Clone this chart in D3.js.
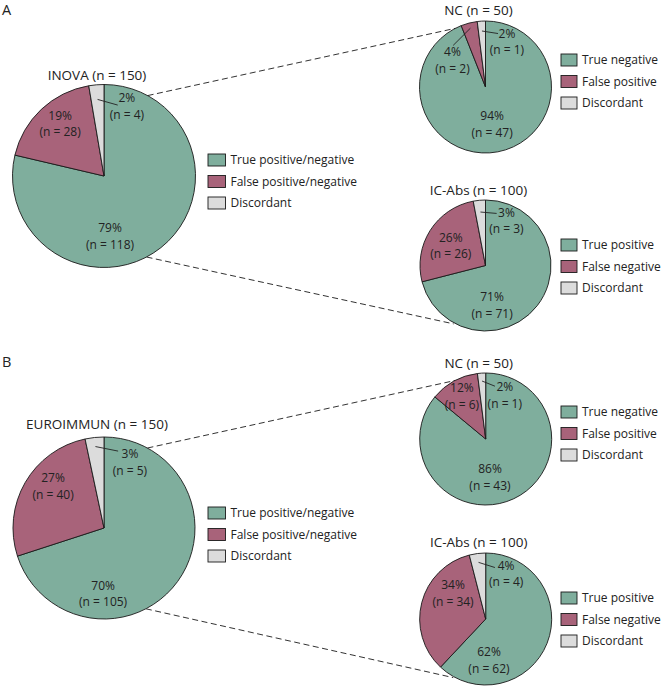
<!DOCTYPE html>
<html>
<head>
<meta charset="utf-8">
<script src="https://cdn.jsdelivr.net/npm/d3@7"></script>
<style>
  html, body { margin: 0; padding: 0; background: #fff; }
  svg { display: block; }
  text { font-family: "Open Sans", "Noto Sans", sans-serif; fill: #222; }
</style>
</head>
<body>
<script>
// ---------------- DATA ----------------
const panelLetters = ["A", "B"];
const mainTitles = ["INOVA (n = 150)", "EUROIMMUN (n = 150)"];
const ncTitles = ["NC (n = 50)", "NC (n = 50)"];
const icTitles = ["IC-Abs (n = 100)", "IC-Abs (n = 100)"];

const mainCounts = [[118, 28, 4], [105, 40, 5]];
const mainPercents = [[79, 19, 2], [70, 27, 3]];
const ncCounts = [[47, 2, 1], [43, 6, 1]];
const ncPercents = [[94, 4, 2], [86, 12, 2]];
const icCounts = [[71, 26, 3], [62, 34, 4]];
const icPercents = [[71, 26, 3], [62, 34, 4]];

const mainLegend = ["True positive/negative", "False positive/negative", "Discordant"];
const ncLegend = ["True negative", "False positive", "Discordant"];
const icLegend = ["True positive", "False negative", "Discordant"];

// ---------------- STYLE / LAYOUT ----------------
const colors = ["#7fae9d", "#a8637a", "#dcdcdc"];
const W = 662, H = 687;

// label offsets relative to pie centre (fractions of radius): [dx, dy]
const layout = [
  { // panel A
    main: { cx: 104, cy: 176, r: 91.5, titleY: 80, legendY: 160,
            labels: [[0.066, 0.66], [-0.48, -0.57], [0.25, -0.76]],
            leader: { slice: 2, r0: 0.84, end: [0.15, -0.775] } },
    nc:   { cx: 485.5, cy: 87, r: 66, titleY: 15, legendY: 60,
            labels: [[0.1, 0.57], [-0.5, -0.4], [0.325, -0.68]],
            leader: { slice: 1, r0: 0.92, end: [-0.49, -0.63] },
            leader2: { slice: 2, r0: 0.85, end: [0.19, -0.81] } },
    ic:   { cx: 485.5, cy: 265.5, r: 65.5, titleY: 195, legendY: 245,
            labels: [[0.1, 0.61], [-0.53, -0.3], [0.32, -0.68]],
            leader: { slice: 2, r0: 0.82, end: [0.17, -0.795] } },
    topLine: [28.5, -27.3], botLine: [152.3, 208.6], letterY: 15
  },
  { // panel B
    main: { cx: 104, cy: 528, r: 91, titleY: 429, legendY: 513,
            labels: [[-0.01, 0.725], [-0.56, -0.455], [0.285, -0.72]],
            leader: { slice: 2, r0: 0.9, end: [0.155, -0.845] } },
    nc:   { cx: 485.7, cy: 439, r: 66, titleY: 367.5, legendY: 412,
            labels: [[0.065, 0.585], [-0.36, -0.645], [0.29, -0.66]],
            leader: { slice: 2, r0: 0.88, end: [0.14, -0.8] } },
    ic:   { cx: 485.7, cy: 619, r: 66, titleY: 546.5, legendY: 598,
            labels: [[0.05, 0.63], [-0.495, -0.385], [0.31, -0.68]],
            leader: { slice: 2, r0: 0.865, end: [0.14, -0.78] } },
    topLine: [28.5, -27.5], botLine: [152.6, 209], letterY: 367
  }
];

const svg = d3.select("body").append("svg")
  .attr("width", W).attr("height", H)
  .attr("viewBox", `0 0 ${W} ${H}`);

const pie = d3.pie().sort(null).startAngle(0).endAngle(2 * Math.PI).value(d => d);
const lineH = 16.5;

function polar(cx, cy, r, deg) {
  const a = deg * Math.PI / 180;
  return [cx + r * Math.sin(a), cy - r * Math.cos(a)];
}

function drawPie(cfg, counts, percents, title, legend, legendX, boxW) {
  const g = svg.append("g").attr("transform", `translate(${cfg.cx},${cfg.cy})`);
  const arcs = pie(counts);
  const arc = d3.arc().innerRadius(0).outerRadius(cfg.r);
  g.selectAll("path.slice").data(arcs).join("path")
    .attr("class", "slice")
    .attr("d", arc)
    .attr("fill", (d, i) => colors[i])
    .attr("stroke", "#1a1a1a")
    .attr("stroke-width", 0.9)
    .attr("stroke-linejoin", "round");

  // leader lines
  [cfg.leader, cfg.leader2].filter(Boolean).forEach(ld => {
    const a = arcs[ld.slice];
    const mid = (a.startAngle + a.endAngle) / 2;
    const rr = cfg.r * ld.r0;
    g.append("line")
      .attr("x1", rr * Math.sin(mid)).attr("y1", -rr * Math.cos(mid))
      .attr("x2", ld.end[0] * cfg.r).attr("y2", ld.end[1] * cfg.r)
      .attr("stroke", "#222").attr("stroke-width", 0.9);
  });

  // slice labels
  arcs.forEach((a, i) => {
    const [fx, fy] = cfg.labels[i];
    const x = fx * cfg.r, y = fy * cfg.r;
    g.append("text").attr("text-anchor", "middle").attr("font-size", 12)
      .attr("x", x).attr("y", y - lineH / 2 + 4).text(percents[i] + "%");
    g.append("text").attr("text-anchor", "middle").attr("font-size", 12)
      .attr("x", x).attr("y", y + lineH / 2 + 4).text(`(n = ${counts[i]})`);
  });

  // title
  svg.append("text")
    .attr("x", cfg.cx - 7).attr("y", cfg.titleY)
    .attr("text-anchor", "middle").attr("font-size", 13.5)
    .text(title);

  // legend
  const lg = svg.append("g").attr("transform", `translate(${legendX},${cfg.legendY})`);
  legend.forEach((lab, i) => {
    const y = i * 21.5;
    lg.append("rect")
      .attr("x", 0).attr("y", y - 6)
      .attr("width", boxW).attr("height", 12)
      .attr("fill", colors[i]).attr("stroke", "#1a1a1a").attr("stroke-width", 0.9);
    lg.append("text")
      .attr("x", boxW + 5).attr("y", y + 4.3)
      .attr("font-size", 12).text(lab);
  });
}

layout.forEach((L, p) => {
  // dashed connectors (drawn first, below pies)
  const [a1, a2] = L.topLine;
  const [b1, b2] = L.botLine;
  const t1 = polar(L.main.cx, L.main.cy, L.main.r, a1);
  const t2 = polar(L.nc.cx, L.nc.cy, L.nc.r, a2);
  const u1 = polar(L.main.cx, L.main.cy, L.main.r, b1);
  const u2 = polar(L.ic.cx, L.ic.cy, L.ic.r + 1, b2);
  [[t1, t2], [u1, u2]].forEach(([s, e]) => {
    svg.append("line")
      .attr("x1", s[0]).attr("y1", s[1]).attr("x2", e[0]).attr("y2", e[1])
      .attr("stroke", "#333").attr("stroke-width", 1)
      .attr("stroke-dasharray", "6,3.5");
  });

  drawPie(L.main, mainCounts[p], mainPercents[p], mainTitles[p], mainLegend, 208, 17.5);
  drawPie(L.nc, ncCounts[p], ncPercents[p], ncTitles[p], ncLegend, 561, 16);
  drawPie(L.ic, icCounts[p], icPercents[p], icTitles[p], icLegend, 561, 16);

  svg.append("text")
    .attr("x", 2).attr("y", L.letterY)
    .attr("font-size", 14.5).text(panelLetters[p]);
});
</script>
</body>
</html>
